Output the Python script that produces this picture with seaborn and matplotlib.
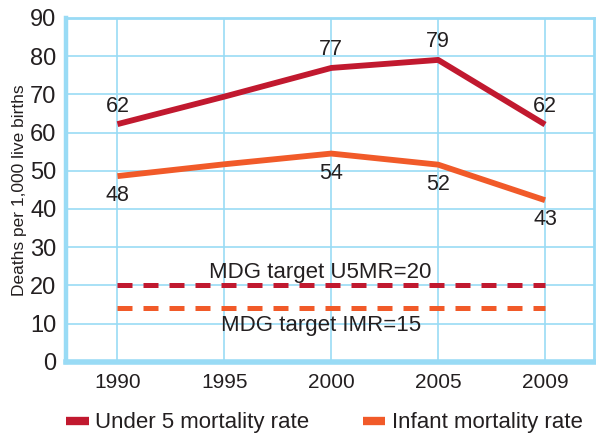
import pandas as pd
import numpy as np
import matplotlib
matplotlib.use("Agg")
import matplotlib.pyplot as plt
import seaborn as sns
from matplotlib.lines import Line2D

# --- Data ---
years = ["1990", "1995", "2000", "2005", "2009"]
u5mr = [62.2, 69.4, 76.9, 79.0, 62.1]
imr = [48.6, 51.7, 54.5, 51.6, 42.3]
u5mr_labels = ["62", "", "77", "79", "62"]
imr_labels = ["48", "", "54", "52", "43"]
target_u5mr = 20
target_imr = 14.2
target_texts = ["MDG target U5MR=20", "MDG target IMR=15"]
series_names = ["Under 5 mortality rate", "Infant mortality rate"]

red = "#c1192f"
orange = "#f15a29"
blue = "#99dbf5"
ink = "#231f20"

sns.set_style("white")
plt.rcParams["font.family"] = ["Liberation Sans", "DejaVu Sans"]

df = pd.DataFrame({"year": years, "u5mr": u5mr, "imr": imr})
targets = pd.DataFrame({"year": [years[0], years[-1]],
                        "u5": [target_u5mr] * 2, "im": [target_imr] * 2})

fig = plt.figure(figsize=(5.96, 4.36), dpi=100)
ax = fig.add_axes([0.111, 0.170, 0.886, 0.789])

sns.lineplot(data=df, x="year", y="u5mr", color=red, lw=4.2, ax=ax,
             solid_capstyle="butt")
sns.lineplot(data=df, x="year", y="imr", color=orange, lw=4.2, ax=ax,
             solid_capstyle="butt")
sns.lineplot(data=targets, x="year", y="u5", color=red, lw=3.6, ax=ax,
             linestyle=(0, (3.0, 2.2)))
sns.lineplot(data=targets, x="year", y="im", color=orange, lw=3.6, ax=ax,
             linestyle=(0, (3.0, 2.2)))

# value labels
for i, (a, b) in enumerate(zip(u5mr_labels, imr_labels)):
    if a:
        ax.annotate(a, (i, u5mr[i]), xytext=(0, 13), textcoords="offset points",
                    ha="center", va="center", fontsize=15.5, color=ink)
    if b:
        ax.annotate(b, (i, imr[i]), xytext=(0, -14), textcoords="offset points",
                    ha="center", va="center", fontsize=15.5, color=ink)

ax.text(1.9, 23.3, target_texts[0], ha="center", va="center", fontsize=16, color=ink)
ax.text(1.9, 9.4, target_texts[1], ha="center", va="center", fontsize=16, color=ink)

ax.set_xlim(-0.48, 4.46)
ax.set_ylim(0, 90)
ax.set_yticks(np.arange(0, 91, 10))
ax.grid(True, color=blue, lw=1.2)
ax.set_axisbelow(True)
for side, w in [("left", 3.2), ("bottom", 4.0), ("top", 2.0), ("right", 2.0)]:
    ax.spines[side].set_color(blue)
    ax.spines[side].set_linewidth(w)
ax.tick_params(length=0, pad=7, colors=ink)
for lab in ax.get_yticklabels():
    lab.set_fontstretch("condensed")
    lab.set_fontsize(17)
for lab in ax.get_xticklabels():
    lab.set_fontstretch("condensed")
    lab.set_fontsize(15)
ax.tick_params(axis="x", pad=8)
ax.set_xlabel("")
ax.set_ylabel("Deaths per 1,000 live births", fontsize=12.5, color=ink, labelpad=2)

handles = [Line2D([], [], color=red, lw=6, solid_capstyle="butt"),
           Line2D([], [], color=orange, lw=6, solid_capstyle="butt")]
fig.legend(handles, series_names, loc="center left", bbox_to_anchor=(0.078, 0.03),
           ncol=2, frameon=False, fontsize=16, handlelength=1.0, handletextpad=0.3,
           columnspacing=2.4, labelcolor=ink)

fig.savefig("out.png", dpi=100)
